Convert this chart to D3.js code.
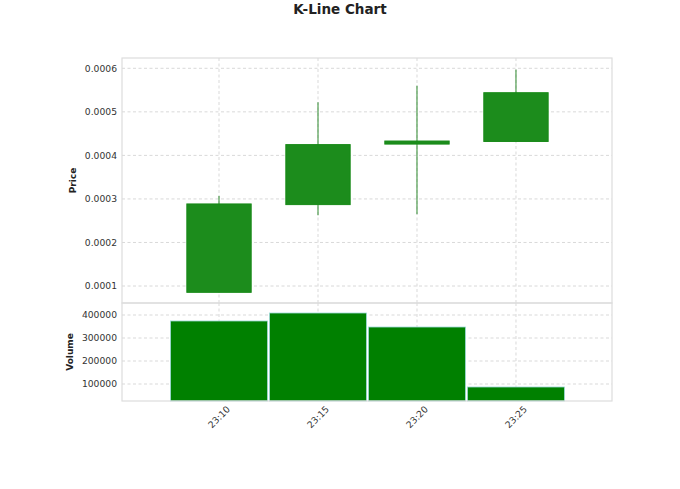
<!DOCTYPE html>
<html>
<head>
<meta charset="utf-8">
<script src="https://cdn.jsdelivr.net/npm/d3@7"></script>
<style>
  body { margin: 0; background: #fff; }
  text { font-family: "DejaVu Sans", sans-serif; }
</style>
</head>
<body>
<div id="chart"></div>
<script>
// data
const times = ['23:10', '23:15', '23:20', '23:25']
const opens = [0.0000855, 0.000287, 0.000426, 0.000432]
const highs = [0.000307, 0.000522, 0.000560, 0.000597]
const lows = [0.0000855, 0.0002625, 0.000265, 0.000432]
const closes = [0.0002885, 0.0004248, 0.000433, 0.000544]
const volumes = [374000, 408700, 347800, 87000]
const priceTicks = [0.0001, 0.0002, 0.0003, 0.0004, 0.0005, 0.0006]
const volumeTicks = [100000, 200000, 300000, 400000]

function draw() {
  const dataset = times.map((t, i) => ({
    i, time: t, open: opens[i], high: highs[i], low: lows[i], close: closes[i], volume: volumes[i]
  }))

  //set dimensions
  const dimensions = {
    width: 680,
    height: 489,
    left: 122,
    right: 612,
    priceTop: 58,
    priceBottom: 303,
    volTop: 303,
    volBottom: 401
  }

  const svg = d3.select('#chart')
    .append('svg')
    .attr('width', dimensions.width)
    .attr('height', dimensions.height)

  //scales
  const xScale = d3.scaleLinear()
    .domain([-0.98, 3.97])
    .range([dimensions.left, dimensions.right])

  const priceScale = d3.scaleLinear()
    .domain([0.000061, 0.0006237])
    .range([dimensions.priceBottom, dimensions.priceTop])

  const volScale = d3.scaleLinear()
    .domain([26100, 452200])
    .range([dimensions.volBottom, dimensions.volTop])

  const step = xScale(1) - xScale(0)

  //title
  svg.append('text')
    .attr('x', 340)
    .attr('y', 14)
    .attr('text-anchor', 'middle')
    .attr('font-size', 13.5)
    .attr('font-weight', 'bold')
    .attr('fill', '#222')
    .text('K-Line Chart')

  //grids and frames for both panels
  const panels = [
    { scale: priceScale, ticks: priceTicks, top: dimensions.priceTop, bottom: dimensions.priceBottom, fmt: d3.format('.4f'), label: 'Price', labelX: 76 },
    { scale: volScale, ticks: volumeTicks, top: dimensions.volTop, bottom: dimensions.volBottom, fmt: d3.format('d'), label: 'Volume', labelX: 73 }
  ]

  panels.forEach(p => {
    const g = svg.append('g')

    g.selectAll('line.hgrid')
      .data(p.ticks)
      .join('line')
      .attr('class', 'hgrid')
      .attr('x1', dimensions.left)
      .attr('x2', dimensions.right)
      .attr('y1', d => p.scale(d))
      .attr('y2', d => p.scale(d))
      .attr('stroke', '#cfcfcf')
      .attr('stroke-width', 0.8)
      .attr('stroke-dasharray', '3,2.5')

    g.selectAll('line.vgrid')
      .data(dataset)
      .join('line')
      .attr('class', 'vgrid')
      .attr('x1', d => xScale(d.i))
      .attr('x2', d => xScale(d.i))
      .attr('y1', p.top)
      .attr('y2', p.bottom)
      .attr('stroke', '#cfcfcf')
      .attr('stroke-width', 0.8)
      .attr('stroke-dasharray', '3,2.5')

    g.selectAll('text.ytick')
      .data(p.ticks)
      .join('text')
      .attr('class', 'ytick')
      .attr('x', dimensions.left - 5)
      .attr('y', d => p.scale(d))
      .attr('dy', '0.35em')
      .attr('text-anchor', 'end')
      .attr('font-size', 9.2)
      .attr('fill', '#333')
      .text(p.fmt)

    g.append('text')
      .attr('transform', `translate(${p.labelX},${(p.top + p.bottom) / 2}) rotate(-90)`)
      .attr('text-anchor', 'middle')
      .attr('font-size', 9)
      .attr('font-weight', 'bold')
      .attr('fill', '#222')
      .text(p.label)
  })

  //candles
  const candles = svg.append('g')
  candles.selectAll('line.wick')
    .data(dataset)
    .join('line')
    .attr('class', 'wick')
    .attr('x1', d => xScale(d.i))
    .attr('x2', d => xScale(d.i))
    .attr('y1', d => priceScale(d.high))
    .attr('y2', d => priceScale(d.low))
    .attr('stroke', '#2e8b2e')
    .attr('stroke-width', 1)

  candles.selectAll('rect')
    .data(dataset)
    .join('rect')
    .attr('x', d => xScale(d.i) - step * 0.325)
    .attr('width', step * 0.65)
    .attr('y', d => priceScale(Math.max(d.open, d.close)))
    .attr('height', d => Math.max(1, priceScale(Math.min(d.open, d.close)) - priceScale(Math.max(d.open, d.close))))
    .attr('fill', '#1c8c1c')
    .attr('stroke', '#188a18')
    .attr('stroke-width', 1)

  //volume bars
  svg.append('g')
    .selectAll('rect')
    .data(dataset)
    .join('rect')
    .attr('x', d => xScale(d.i) - step * 0.49)
    .attr('width', step * 0.98)
    .attr('y', d => volScale(d.volume))
    .attr('height', d => dimensions.volBottom - volScale(d.volume))
    .attr('fill', '#008000')
    .attr('stroke', '#9fd9d9')
    .attr('stroke-width', 0.8)

  //frames
  panels.forEach(p => {
    svg.append('rect')
      .attr('x', dimensions.left)
      .attr('y', p.top)
      .attr('width', dimensions.right - dimensions.left)
      .attr('height', p.bottom - p.top)
      .attr('fill', 'none')
      .attr('stroke', '#dddddd')
      .attr('stroke-width', 1.2)
  })

  //x tick labels
  svg.append('g')
    .selectAll('text')
    .data(dataset)
    .join('text')
    .attr('transform', d => `translate(${xScale(d.i)},${417}) rotate(-45)`)
    .attr('text-anchor', 'middle')
    .attr('dy', '0.35em')
    .attr('font-size', 9.2)
    .attr('fill', '#333')
    .text(d => d.time)
}

draw()
</script>
</body>
</html>
